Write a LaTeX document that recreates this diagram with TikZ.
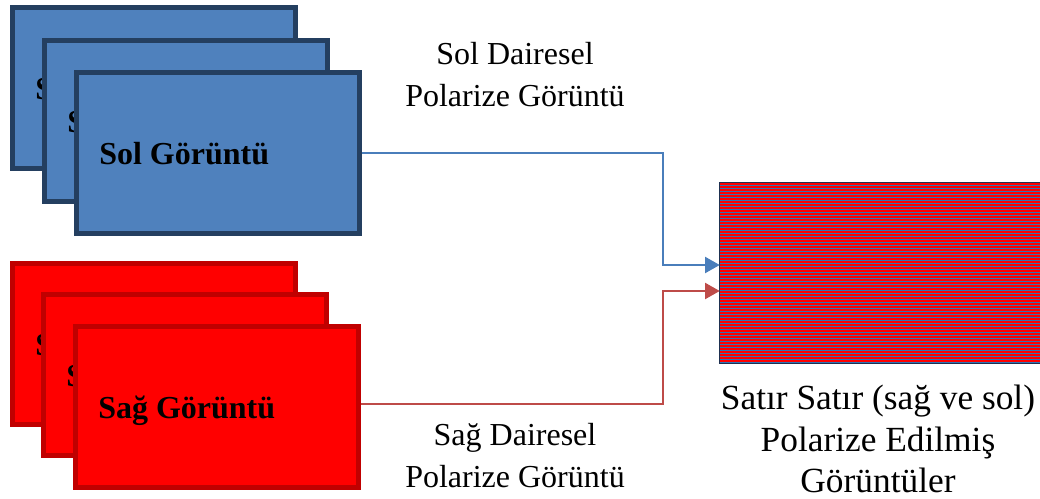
\documentclass[tikz,border=0pt]{standalone}
\usepackage{fontspec}
\setmainfont{Liberation Serif}
\usetikzlibrary{arrows.meta}
\definecolor{bfill}{HTML}{4F81BD}
\definecolor{bline}{HTML}{243F60}
\definecolor{rfill}{HTML}{FF0000}
\definecolor{rline}{HTML}{C00000}
\definecolor{barrow}{HTML}{4A7EBB}
\definecolor{rarrow}{HTML}{BE4B48}
\definecolor{sblue}{HTML}{2E75B6}
\definecolor{sred}{HTML}{FF0000}
\definecolor{sborder}{HTML}{1F3050}
\begin{document}
\begin{tikzpicture}[x=0.75pt,y=-0.75pt,
  card/.style={draw, line width=3.75pt, minimum width=212.25pt, minimum height=120.75pt, inner sep=0pt},
  bluecard/.style={card, fill=bfill, draw=bline},
  redcard/.style={card, fill=rfill, draw=rline},
  cardtext/.style={anchor=base west, inner sep=0pt, font=\fontsize{24}{28}\selectfont\bfseries},
  caption/.style={align=center, inner sep=0pt, font=\fontsize{24}{31.5}\selectfont},
  bigcaption/.style={align=center, inner sep=0pt, font=\fontsize{26.5}{31}\selectfont},
  conn/.style={line width=1.6pt, -{Triangle[length=11pt,width=12pt]}},
]
\useasboundingbox (0,0) rectangle (1040,499);
% blue stack
\node[bluecard] (b1) at (154,88) {};
\node[cardtext] (b1t) at ([shift={(18.75pt,-71pt)}]b1.north west) {Sol Görüntü};
\node[bluecard] (b2) at (186,121) {};
\node[cardtext] (b2t) at ([shift={(18.75pt,-71pt)}]b2.north west) {Sol Görüntü};
\node[bluecard] (b3) at (218,153) {};
\node[cardtext] (b3t) at ([shift={(18.75pt,-71pt)}]b3.north west) {Sol Görüntü};
% red stack
\node[redcard] (r1) at (154,344) {};
\node[cardtext] (r1t) at ([shift={(18.75pt,-70.5pt)}]r1.north west) {Sağ Görüntü};
\node[redcard] (r2) at (185,375) {};
\node[cardtext] (r2t) at ([shift={(18.75pt,-70.5pt)}]r2.north west) {Sağ Görüntü};
\node[redcard] (r3) at (217,407) {};
\node[cardtext] (r3t) at ([shift={(18.75pt,-70.5pt)}]r3.north west) {Sağ Görüntü};
% striped image
\node[fill=sblue, minimum width=240pt, minimum height=135pt, inner sep=0pt] (img) at (880,273) {};
\foreach \i in {0,...,59}{\fill[sred] (720,{183+3*\i}) rectangle (1040,{184.6+3*\i});}
\draw[sborder, line width=0.75pt] (img.north west) rectangle (img.south east);
% connectors
\coordinate (bk) at (663,153);
\coordinate (rk) at (663,404);
\draw[conn, draw=barrow] (b3.east) -- (bk) |- ([yshift=6pt]img.west);
\draw[conn, draw=rarrow] ([yshift=2.25pt]r3.east) -- (rk) |- ([yshift=-13.5pt]img.west);
% captions
\node[caption] (soll) at (515,75) {Sol Dairesel\\Polarize Görüntü};
\node[caption] (sagl) at (515,456) {Sağ Dairesel\\Polarize Görüntü};
\node[bigcaption] (outl) at (878,439) {Satır Satır (sağ ve sol)\\Polarize Edilmiş\\Görüntüler};
\end{tikzpicture}
\end{document}
